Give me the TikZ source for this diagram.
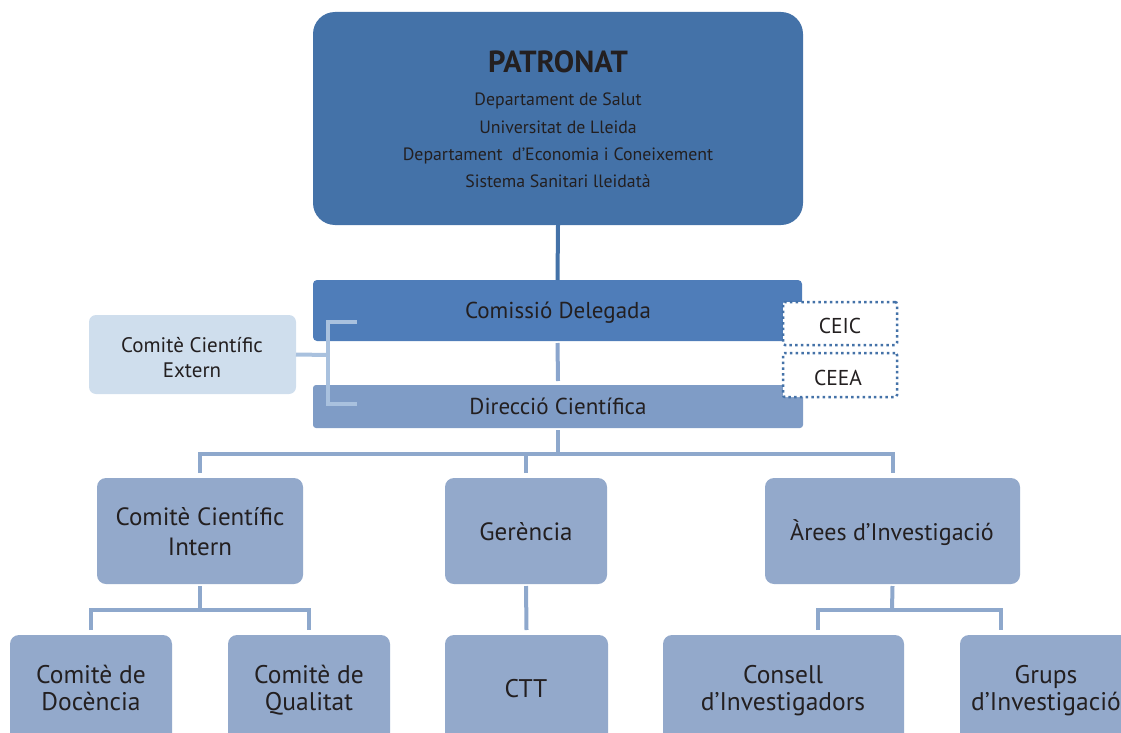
\documentclass[tikz,border=0pt]{standalone}
\usepackage{fontspec}
\setmainfont{PT Sans}
\definecolor{patrc}{HTML}{4472A8}
\definecolor{comisc}{HTML}{4F7DB9}
\definecolor{direcc}{HTML}{7F9CC6}
\definecolor{externc}{HTML}{CFDEED}
\definecolor{lowc}{HTML}{93A9CB}
\definecolor{linec}{HTML}{8EA8CC}
\definecolor{brackc}{HTML}{A9C1DE}
\definecolor{midc}{HTML}{8AA5CD}
\definecolor{txt}{HTML}{231F20}
\tikzset{
  box/.style={anchor=north west, draw=none, inner sep=0pt, outer sep=0pt},
  lbl/.style={anchor=base, inner sep=0pt, outer sep=0pt, text=txt},
  lowbox/.style={box, fill=lowc, rounded corners=9pt},
  conn/.style={draw=linec, line width=4pt},
  dotbox/.style={box, fill=white, draw=patrc, line width=2.5pt, dash pattern=on 2.5pt off 3.2pt, rounded corners=2pt}
}
\begin{document}
\begin{tikzpicture}[x=1pt,y=-1pt]
\useasboundingbox (0,0) rectangle (1121,733);
\clip (0,0) rectangle (1121,733);
% boxes
\node[box, fill=patrc, rounded corners=22pt, minimum width=490pt, minimum height=213pt] (patr) at (313,12) {};
\node[box, fill=comisc, rounded corners=4pt, minimum width=489pt, minimum height=61pt] (comis) at (313,280) {};
\node[box, fill=direcc, rounded corners=3pt, minimum width=490pt, minimum height=43pt] (direc) at (313,385) {};
\node[box, fill=externc, rounded corners=7pt, minimum width=207pt, minimum height=79pt] (ext) at (89,315) {};
\node[dotbox, minimum width=114pt, minimum height=43pt] (ceic) at (783,302) {};
\node[dotbox, minimum width=114pt, minimum height=44pt] (ceea) at (783,353) {};
\node[lowbox, minimum width=206pt, minimum height=106pt] (intern) at (97,478) {};
\node[lowbox, minimum width=162pt, minimum height=106pt] (geren) at (445,478) {};
\node[lowbox, minimum width=255pt, minimum height=106pt] (areas) at (765,478) {};
\node[lowbox, minimum width=162pt, minimum height=130pt] (docen) at (10,635) {};
\node[lowbox, minimum width=162pt, minimum height=130pt] (qual) at (228,635) {};
\node[lowbox, minimum width=163pt, minimum height=130pt] (ctt) at (445,635) {};
\node[lowbox, minimum width=241pt, minimum height=130pt] (cons) at (663,635) {};
\node[lowbox, minimum width=172pt, minimum height=130pt] (grups) at (960,635) {};
% connectors
\coordinate (bus) at (558,454);
\draw[draw=patrc, line width=4pt] (patr.south) -- (comis.north);
\draw[draw=midc, line width=4pt] ([yshift=-2pt]comis.south) -- ([yshift=4pt]direc.north);
\draw[conn] ([yshift=-2pt]direc.south) -- (bus);
\draw[conn] ([yshift=5pt]intern.north) |- (bus) -| ([yshift=5pt]areas.north);
\draw[conn] ([yshift=5pt]geren.north) -- (geren.north |- bus);
\coordinate (bus2) at (200,610);
\draw[conn] ([yshift=-2pt]intern.south) -- (bus2);
\draw[conn] ([yshift=5pt]docen.north) |- (bus2) -| ([yshift=5pt]qual.north);
\draw[conn] ([yshift=-2pt]geren.south) -- ([yshift=5pt]ctt.north);
\coordinate (bus3) at (892,610);
\draw[conn] ([yshift=-2pt]areas.south) -- (bus3);
\draw[conn] ([xshift=34.5pt,yshift=5pt]cons.north) |- (bus3) -| ([xshift=-45pt,yshift=5pt]grups.north);
% bracket
\coordinate (bt) at (357,322);
\coordinate (bb) at (357,404);
\coordinate (bm) at (328,355);
\draw[draw=brackc, line width=4pt] (ext.east) -- (bm);
\draw[draw=brackc, line width=4pt] (bt) -- (bt -| bm) -- (bb -| bm) -- (bb);
% texts
\node[lbl, font=\fontsize{30.5}{30.5}\selectfont\bfseries] (tpatr) at (558,73) {PATRONAT};
\node[lbl, font=\fontsize{17.8}{17.8}\selectfont] (tp1) at (558,106) {Departament de Salut};
\node[lbl, font=\fontsize{17.8}{17.8}\selectfont] (tp2) at (558,133) {Universitat de Lleida};
\node[lbl, font=\fontsize{17.8}{17.8}\selectfont] (tp3) at (558,160) {Departament\ \ d’Economia i Coneixement};
\node[lbl, font=\fontsize{17.8}{17.8}\selectfont] (tp4) at (558,187) {Sistema Sanitari lleidatà};
\node[lbl, font=\fontsize{23}{23}\selectfont] (tcomis) at (558,318) {Comissió Delegada};
\node[lbl, font=\fontsize{23}{23}\selectfont] (tdirec) at (558,414) {Direcció Científica};
\node[lbl, font=\fontsize{21}{21}\selectfont] (te1) at (192,352) {Comitè Científic};
\node[lbl, font=\fontsize{21}{21}\selectfont] (te2) at (192,377) {Extern};
\node[lbl, font=\fontsize{21.5}{21.5}\selectfont] (tceic) at (840,333) {CEIC};
\node[lbl, font=\fontsize{21.5}{21.5}\selectfont] (tceea) at (838,385) {CEEA};
\node[lbl, font=\fontsize{25}{25}\selectfont] (ti1) at (200,525) {Comitè Científic};
\node[lbl, font=\fontsize{25}{25}\selectfont] (ti2) at (200,555) {Intern};
\node[lbl, font=\fontsize{25}{25}\selectfont] (tg) at (526,540) {Gerència};
\node[lbl, font=\fontsize{24}{24}\selectfont] (ta) at (892,540) {Àrees d’Investigació};
\node[lbl, font=\fontsize{25.5}{25.5}\selectfont] (td1) at (91,683) {Comitè de};
\node[lbl, font=\fontsize{25.5}{25.5}\selectfont] (td2) at (91,710) {Docència};
\node[lbl, font=\fontsize{25.5}{25.5}\selectfont] (tq1) at (309,683) {Comitè de};
\node[lbl, font=\fontsize{25.5}{25.5}\selectfont] (tq2) at (309,710) {Qualitat};
\node[lbl, font=\fontsize{25.5}{25.5}\selectfont] (tctt) at (526,697) {CTT};
\node[lbl, font=\fontsize{25.5}{25.5}\selectfont] (tc1) at (783,683) {Consell};
\node[lbl, font=\fontsize{25.5}{25.5}\selectfont] (tc2) at (783,710) {d’Investigadors};
\node[lbl, font=\fontsize{25.5}{25.5}\selectfont] (tgr1) at (1046,683) {Grups};
\node[lbl, font=\fontsize{25.5}{25.5}\selectfont] (tgr2) at (1046,710) {d’Investigació};
\end{tikzpicture}
\end{document}
